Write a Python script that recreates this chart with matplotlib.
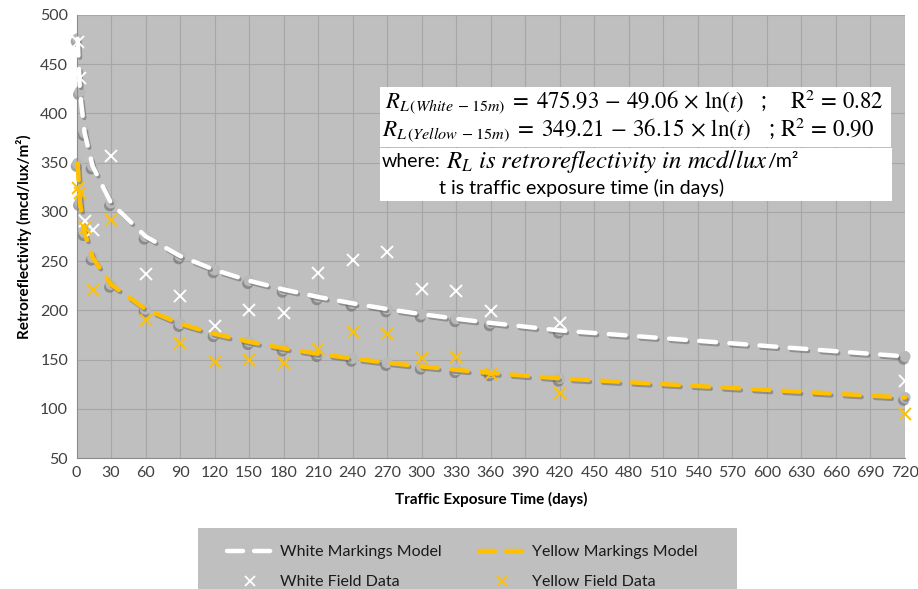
import matplotlib.pyplot as plt
import matplotlib.patheffects as pe
from matplotlib.lines import Line2D
from matplotlib.patches import Rectangle

plt.rcParams['font.family'] = ['Lato', 'DejaVu Sans']
plt.rcParams['mathtext.fontset'] = 'stix'

# exposure times (days)
days = [1, 3, 7, 14, 30, 60, 90, 120, 150, 180, 210, 240, 270, 300, 330, 360, 420, 720]

white_field = [473, 436, 291, 282, 357, 237, 215, 184, 200, 197, 238, 251, 259, 222, 220, 199, 187, 128]
yellow_field = [324, 319, 284, 221, 292, 190, 167, 148, 150, 146, 161, 178, 176, 152, 153, 135, 116, 95]

# fitted model values at the same times
white_model = [475.9, 422.0, 380.5, 346.5, 309.1, 275.1, 255.2, 241.1, 230.1, 221.2,
               213.6, 207.1, 201.3, 196.1, 191.4, 187.2, 179.6, 153.2]
yellow_model = [349.2, 309.5, 278.9, 253.8, 226.3, 201.2, 186.5, 176.1, 168.1, 161.5,
                155.9, 151.1, 146.8, 143.0, 139.6, 136.4, 130.9, 111.4]

xticks = list(range(0, 721, 30))
yticks = list(range(50, 501, 50))

W, H = 918, 589
fig = plt.figure(figsize=(W / 100, H / 100), dpi=100)
ax = fig.add_axes([76.5 / W, 1 - 458 / H, (905 - 76.5) / W, (458 - 15) / H])
ax.set_facecolor('#bfbfbf')

yellow = '#ffc000'
shadow = [pe.SimpleLineShadow(offset=(1.2, -1.5), shadow_color='#555555', alpha=0.45), pe.Normal()]
mshadow = [pe.SimplePatchShadow(offset=(-1, -2), shadow_rgbFace='#6a6a6a', alpha=0.6), pe.Normal()]

for model, col in [(white_model, 'white'), (yellow_model, yellow)]:
    ax.plot(days, model, ls='none', marker='o', ms=8, mfc='#b9b9b9', mec='none',
            zorder=2, path_effects=mshadow, clip_on=False)
    ax.plot(days, model, color=col, lw=3.2, dashes=(3.8, 3.0), dash_capstyle='round',
            zorder=3, path_effects=shadow, clip_on=False)

ax.plot(days, white_field, ls='none', marker='x', ms=8, mew=1.4, color='white', zorder=4, clip_on=False)
ax.plot(days, yellow_field, ls='none', marker='x', ms=8, mew=1.4, color=yellow, zorder=4, clip_on=False)

ax.set_xlim(0, 720)
ax.set_ylim(50, 500)
ax.set_xticks(xticks)
ax.set_yticks(yticks)
ax.grid(True, color='#a6a6a6', lw=0.8)
ax.set_axisbelow(True)
ax.tick_params(length=0, labelsize=11.5, colors='#404040', pad=6)
for s in ['top', 'right']:
    ax.spines[s].set_visible(False)
for s in ['left', 'bottom']:
    ax.spines[s].set_color('#8c8c8c')

ax.set_xlabel('Traffic Exposure Time (days)', fontsize=11, fontweight='bold', labelpad=8)
ax.set_ylabel('Retroreflectivity (mcd/lux/m²)', fontsize=11, fontweight='bold', labelpad=6)

# equation boxes
fig.patches.append(Rectangle((380 / W, 1 - 147 / H), 511 / W, 60 / H, transform=fig.transFigure,
                             facecolor='white', edgecolor='none', zorder=5))
fig.patches.append(Rectangle((380 / W, 1 - 201 / H), 512 / W, 53 / H, transform=fig.transFigure,
                             facecolor='white', edgecolor='none', zorder=5))

renderer = fig.canvas.get_renderer()


def ftext(x, y, s, width=None, **kw):
    t = fig.text(x / W, 1 - y / H, s, va='center', ha='left', zorder=6, **kw)
    if width is not None:
        w = t.get_window_extent(renderer).width
        t.set_fontsize(t.get_fontsize() * width / w)
    return t


def right_of(t):
    return t.get_window_extent(renderer).x1


ftext(385, 102, r'$R_{L\,(White\;-15m)} \;=\; 475.93 \,-\, 49.06 \,\times\, \ln(t)$   ;    $\mathrm{R}^2 \,=\, 0.82$',
      width=500, fontsize=15)
ftext(382, 130, r'$R_{L\,(Yellow\;-15m)} \;=\; 349.21 \,-\, 36.15 \,\times\, \ln(t)$   ; $\mathrm{R}^2 \,=\, 0.90$',
      width=494, fontsize=15)
tw = ftext(382, 162, 'where:', fontsize=14)
tm = ftext(right_of(tw) + 5, 162, r'$R_L\ is\ retroreflectivity\ in\ mcd/lux$', width=322, fontsize=15)
ftext(right_of(tm), 162, '/m²', fontsize=14)
ftext(439, 188, 't is traffic exposure time (in days)', width=287, fontsize=14)

# legend panel
fig.patches.append(Rectangle((198 / W, 0), 539 / W, 61 / H, transform=fig.transFigure,
                             facecolor='#bfbfbf', edgecolor='none', zorder=1))
handles = [
    Line2D([], [], color='white', lw=3.2, dashes=(3.6, 2.5), dash_capstyle='round'),
    Line2D([], [], ls='none', marker='x', ms=7, mew=1.3, color='white'),
    Line2D([], [], color=yellow, lw=3.2, dashes=(3.6, 2.5), dash_capstyle='round'),
    Line2D([], [], ls='none', marker='x', ms=7, mew=1.3, color=yellow),
]
labels = ['White Markings Model', 'White Field Data', 'Yellow Markings Model', 'Yellow Field Data']
leg = fig.legend(handles, labels, ncol=2, loc='upper left', bbox_to_anchor=(219 / W, 1 - 537 / H),
                 fontsize=11.5, frameon=False, borderpad=0, handlelength=2.9, handletextpad=0.45,
                 columnspacing=2.3, labelspacing=1.0)
for t in leg.get_texts():
    t.set_color('#1a1a1a')

fig.savefig('out.png', dpi=100)
